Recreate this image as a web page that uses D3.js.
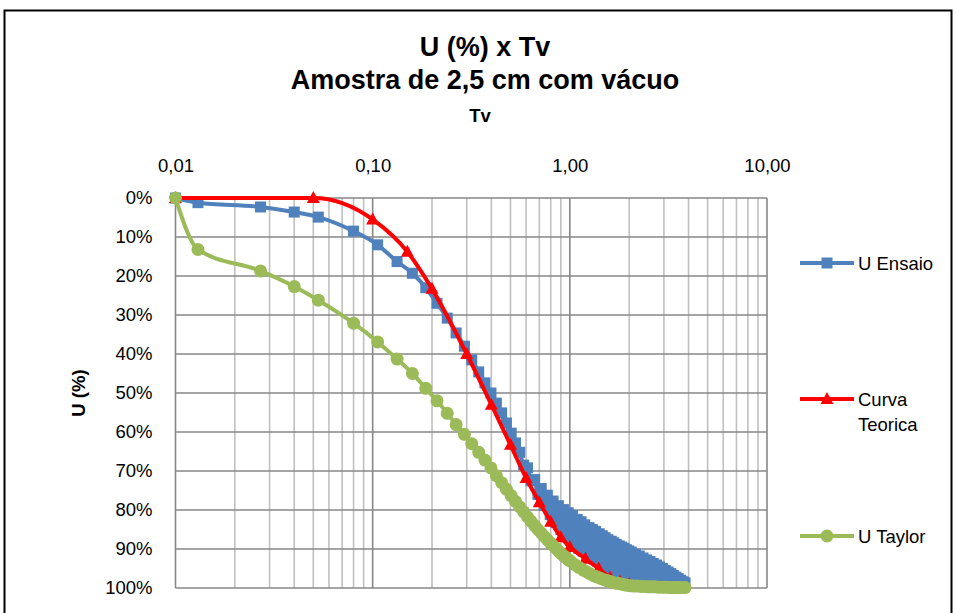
<!DOCTYPE html>
<html>
<head>
<meta charset="utf-8">
<script src="https://cdn.jsdelivr.net/npm/d3@7"></script>
<style>
  body { margin: 0; background: #fff; }
  svg { display: block; font-family: "Liberation Sans", Arial, sans-serif; }
</style>
</head>
<body>
<div id="chart"></div>
<script>
// --- DATA ---
// U Ensaio: leituras (no fim do ensaio os valores oscilam e formam uma faixa)
const tvEnsaio = [0.010, 0.013, 0.027, 0.040, 0.053, 0.080, 0.106, 0.133, 0.159, 0.186,
  0.212, 0.239, 0.265, 0.292, 0.318, 0.345, 0.371, 0.398, 0.424, 0.451,
  0.477, 0.504, 0.530,
  0.557, 0.583, 0.610, 0.636, 0.663, 0.689, 0.716, 0.742, 0.769, 0.795,
  0.822, 0.848, 0.875, 0.901, 0.928, 0.954, 0.981, 1.007,
  1.03, 1.06, 1.09, 1.11, 1.14, 1.17, 1.19, 1.22, 1.25, 1.27,
  1.30, 1.33, 1.35, 1.38, 1.41, 1.43, 1.46, 1.48, 1.51, 1.54,
  1.56, 1.59, 1.62, 1.64, 1.67, 1.70, 1.72, 1.75, 1.78, 1.80,
  1.83, 1.86, 1.88, 1.91, 1.94, 1.96, 1.99, 2.02,
  2.05, 2.1, 2.15, 2.2, 2.25, 2.3, 2.35, 2.4, 2.45, 2.5,
  2.55, 2.6, 2.65, 2.7, 2.75, 2.8, 2.85, 2.9, 2.95, 3.0,
  3.05, 3.1, 3.15, 3.2, 3.25, 3.3, 3.35, 3.4, 3.45, 3.5,
  3.55, 3.6, 3.65, 3.7, 3.75, 3.8, 3.84];

const uEnsaio = [0, 1.2, 2.3, 3.6, 4.9, 8.5, 12.0, 16.3, 19.3, 23.0,
  27.0, 30.8, 34.6, 38.0, 41.5, 44.6, 47.4, 50.0, 52.6, 55.1,
  57.7, 60.3, 62.8,
  65.2, 68.5, 69.2, 72.5, 72.2, 76.0, 74.5, 78.8, 76.2, 81.2,
  77.7, 83.2, 78.9, 85.0, 79.9, 86.5, 80.7, 87.8,
  81.4, 88.8, 82.4, 89.8, 83.0, 90.6, 83.8, 91.3, 84.5, 92.0,
  85.0, 92.6, 85.5, 93.1, 86.1, 93.6, 86.6, 94.0, 87.1, 94.4,
  87.6, 94.8, 88.0, 95.1, 88.4, 95.4, 88.8, 95.7, 89.2, 95.9,
  89.5, 96.1, 89.8, 96.3, 90.2, 96.5, 90.5, 96.6,
  90.8, 96.8, 91.3, 97.0, 91.8, 97.2, 92.3, 97.3, 92.8, 97.5,
  93.2, 97.6, 93.7, 97.7, 94.1, 97.8, 94.6, 97.9, 95.0, 98.0,
  95.5, 98.0, 95.9, 98.1, 96.3, 98.2, 96.8, 98.3, 97.2, 98.4,
  97.6, 98.5, 98.0, 98.6, 98.4, 98.7, 98.7];

// U Taylor
const tvTaylor = [0.010, 0.013, 0.027, 0.040, 0.053, 0.080, 0.106, 0.133, 0.159, 0.186,
  0.212, 0.239, 0.265, 0.292, 0.318, 0.345, 0.371, 0.398, 0.424, 0.451,
  0.477, 0.504, 0.530, 0.557, 0.583, 0.610, 0.636, 0.663, 0.689, 0.716,
  0.742, 0.769, 0.795, 0.822, 0.848, 0.875, 0.901, 0.928, 0.954, 0.981,
  1.007, 1.06, 1.11, 1.17, 1.22, 1.27, 1.33, 1.38, 1.43, 1.48,
  1.54, 1.59, 1.64, 1.70, 1.75, 1.80, 1.86, 1.91, 1.96, 2.02,
  2.1, 2.2, 2.3, 2.4, 2.5, 2.6, 2.7, 2.8, 2.9, 3.0,
  3.1, 3.2, 3.3, 3.4, 3.5, 3.6, 3.7, 3.84];

const uTaylor = [0, 13.2, 18.7, 22.7, 26.2, 32.1, 36.9, 41.3, 45.0, 48.8,
  52.0, 55.2, 58.1, 60.6, 63.0, 65.2, 67.2, 69.2, 71.2, 73.0,
  74.7, 76.3, 77.8, 79.2, 80.5, 81.8, 82.9, 84.0, 85.0, 85.9,
  86.8, 87.6, 88.4, 89.1, 89.8, 90.5, 91.1, 91.7, 92.2, 92.7,
  93.1, 94.0, 94.7, 95.4, 95.9, 96.4, 96.9, 97.2, 97.5, 97.8,
  98.1, 98.3, 98.5, 98.7, 98.8, 98.9, 99.1, 99.2, 99.3, 99.4,
  99.5, 99.5, 99.6, 99.6, 99.7, 99.7, 99.7, 99.8, 99.8, 99.8,
  99.8, 99.9, 99.9, 99.9, 99.9, 99.9, 99.9, 99.9];

// Curva Teorica
const tvTeorica = [0.01, 0.05, 0.1, 0.15, 0.2, 0.3, 0.4, 0.5, 0.6, 0.7,
  0.8, 0.9, 1.0, 1.2, 1.4, 1.6, 1.8, 2.0];
const uTeorica = [0, 0, 5.5, 13.8, 23.3, 40.0, 53.0, 63.3, 71.8, 78.0,
  83.0, 87.0, 89.5, 92.5, 95.0, 97.3, 98.4, 99.0];

const xTicks = [0.01, 0.1, 1, 10];
const xTickLabels = ["0,01", "0,10", "1,00", "10,00"];
const yTicks = [0, 10, 20, 30, 40, 50, 60, 70, 80, 90, 100];
const yTickLabels = yTicks.map(d => d + "%");

const series = [
  { name: "U Ensaio", tv: tvEnsaio, u: uEnsaio, color: "#4F81BD", marker: "square" },
  { name: "Curva Teorica", tv: tvTeorica, u: uTeorica, color: "#FF0000", marker: "triangle" },
  { name: "U Taylor", tv: tvTaylor, u: uTaylor, color: "#9BBB59", marker: "circle" }
];

// --- LAYOUT ---
const W = 956, H = 613;
const FONT = "'Liberation Sans', Arial, sans-serif";
const svg = d3.select("#chart").append("svg").attr("width", W).attr("height", H);
svg.append("rect").attr("width", W).attr("height", H).attr("fill", "#fff");
svg.append("rect").attr("x", 4.5).attr("y", 10.5).attr("width", 947).attr("height", 700)
  .attr("fill", "none").attr("stroke", "#000").attr("stroke-width", 2);

const x = d3.scaleLog().domain([0.01, 10]).range([175.5, 767]);
const y = d3.scaleLinear().domain([0, 100]).range([198, 588]);

// grid
const grid = svg.append("g");
grid.selectAll("line.v").data(x.ticks()).join("line")
  .attr("x1", d => x(d)).attr("x2", d => x(d))
  .attr("y1", y(0)).attr("y2", y(100))
  .attr("stroke", d => Math.abs(Math.log10(d) - Math.round(Math.log10(d))) < 1e-9 ? "#878787" : "#c0c0c0")
  .attr("stroke-width", 1.6);
grid.selectAll("line.h").data(yTicks).join("line")
  .attr("x1", x(0.01)).attr("x2", x(10))
  .attr("y1", d => y(d)).attr("y2", d => y(d))
  .attr("stroke", "#878787").attr("stroke-width", 1.6);

// axes
const xAxis = svg.append("g").attr("transform", `translate(0,${y(0)})`)
  .call(d3.axisTop(x).tickValues(xTicks).tickSize(0).tickPadding(26)
    .tickFormat((d, i) => xTickLabels[i]));
xAxis.select(".domain").remove();
xAxis.attr("font-family", null).attr("font-size", null);
xAxis.selectAll("text").style("font-family", FONT).style("font-size", "18.5px")
  .style("font-weight", "normal").attr("fill", "#000");

const yAxis = svg.append("g").attr("transform", `translate(${x(0.01)},0)`)
  .call(d3.axisLeft(y).tickValues(yTicks).tickSize(0).tickPadding(23)
    .tickFormat((d, i) => yTickLabels[i]));
yAxis.select(".domain").remove();
yAxis.attr("font-family", null).attr("font-size", null);
yAxis.selectAll("text").style("font-family", FONT).style("font-size", "18.5px")
  .style("font-weight", "normal").attr("fill", "#000");

// titles
svg.append("text").attr("x", 485).attr("y", 56).attr("text-anchor", "middle")
  .attr("font-size", 27).attr("font-weight", "bold").text("U (%) x Tv");
svg.append("text").attr("x", 485).attr("y", 89).attr("text-anchor", "middle")
  .attr("font-size", 27).attr("font-weight", "bold").text("Amostra de 2,5 cm com vácuo");
svg.append("text").attr("x", 480).attr("y", 122).attr("text-anchor", "middle")
  .attr("font-size", 18.5).attr("font-weight", "bold").text("Tv");
svg.append("text").attr("transform", "translate(85,393) rotate(-90)").attr("text-anchor", "middle")
  .attr("font-size", 18.5).attr("font-weight", "bold").text("U (%)");

// markers
function drawMarker(g, type, color) {
  if (type === "square") {
    g.append("rect").attr("x", -5.5).attr("y", -5.5).attr("width", 11).attr("height", 11).attr("fill", color);
  } else if (type === "triangle") {
    g.append("path").attr("d", "M0,-7L6.5,5L-6.5,5Z").attr("fill", color);
  } else {
    g.append("circle").attr("r", 6.5).attr("fill", color);
  }
}

const line = d3.line().curve(d3.curveMonotoneX);
series.forEach(s => {
  const pts = s.tv.map((t, i) => [x(t), y(s.u[i])]);
  const g = svg.append("g");
  g.append("path").attr("d", line(pts)).attr("fill", "none")
    .attr("stroke", s.color).attr("stroke-width", 4).attr("stroke-linejoin", "round");
  g.selectAll("g.m").data(pts).join("g")
    .attr("transform", d => `translate(${d[0]},${d[1]})`)
    .each(function () { drawMarker(d3.select(this), s.marker, s.color); });
});

// legend
const legendY = [263, 399, 536];
series.forEach((s, i) => {
  const g = svg.append("g").attr("transform", `translate(0,${legendY[i]})`);
  g.append("line").attr("x1", 800).attr("x2", 854).attr("y1", 0).attr("y2", 0)
    .attr("stroke", s.color).attr("stroke-width", 4);
  const m = g.append("g").attr("transform", "translate(827,0)");
  drawMarker(m, s.marker, s.color);
  const words = s.name === "Curva Teorica" ? ["Curva", "Teorica"] : [s.name];
  words.forEach((w, j) => {
    g.append("text").attr("x", 858).attr("y", 7 + j * 25).attr("font-size", 18.5).text(w);
  });
});
</script>
</body>
</html>
